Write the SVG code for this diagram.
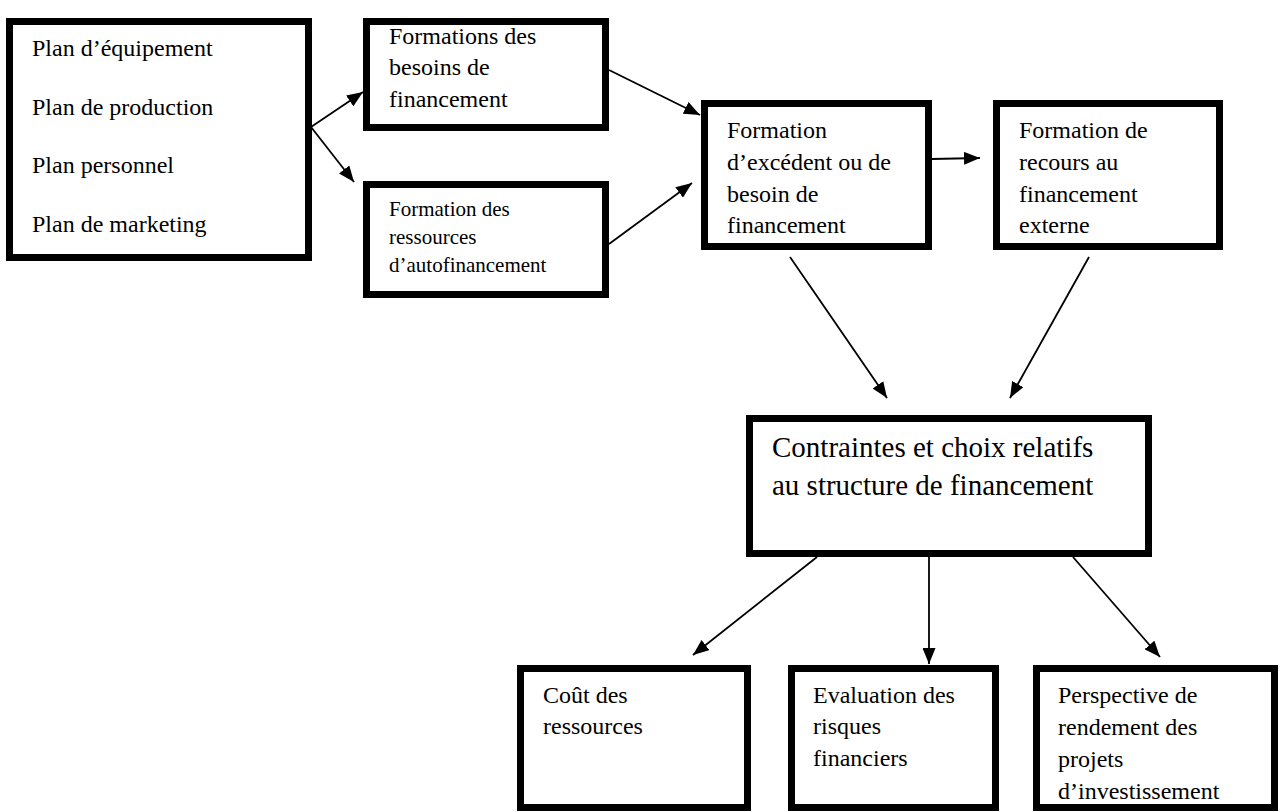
<svg xmlns="http://www.w3.org/2000/svg" width="1281" height="812" viewBox="0 0 1281 812">
<style>
.box{fill:#fff;stroke:#000;stroke-width:7}
text{font-family:'Liberation Serif','Times New Roman','DejaVu Serif',serif;font-size:24px;fill:#000}
.s{font-size:21px}
.b{font-size:29px}
.c{stroke:#000;stroke-width:1.8;fill:none;marker-end:url(#ah)}
</style>
<defs>
<marker id="ah" markerUnits="userSpaceOnUse" markerWidth="16" markerHeight="13" refX="16" refY="6.5" orient="auto">
<path d="M0,0 L16,6.5 L0,13 z" fill="#000"/>
</marker>
</defs>
<rect width="1281" height="812" fill="#fff"/>
<g id="connectors">
<line class="c" x1="311" y1="127" x2="363" y2="92"/>
<line class="c" x1="311" y1="127" x2="354" y2="182"/>
<line class="c" x1="609" y1="70" x2="700" y2="115"/>
<line class="c" x1="609" y1="244" x2="692" y2="183"/>
<line class="c" x1="932" y1="159" x2="980" y2="158"/>
<line class="c" x1="790" y1="257" x2="887" y2="398"/>
<line class="c" x1="1089" y1="257" x2="1010" y2="398"/>
<line class="c" x1="817" y1="557" x2="693" y2="655"/>
<line class="c" x1="929" y1="557" x2="929" y2="664"/>
<line class="c" x1="1073" y1="557" x2="1160" y2="657"/>
</g>
<g font-family="Liberation Serif, Times New Roman, DejaVu Serif, serif">
<g id="plans">
<rect class="box" x="9.5" y="21.5" width="299" height="236"/>
<text x="32" y="56">Plan d’équipement</text>
<text x="32" y="115">Plan de production</text>
<text x="32" y="173">Plan personnel</text>
<text x="32" y="232">Plan de marketing</text>
</g>
<g id="besoins">
<rect class="box" x="366.5" y="21.5" width="239" height="106"/>
<text x="389" y="44">Formations des</text>
<text x="389" y="75">besoins de</text>
<text x="389" y="107">financement</text>
</g>
<g id="ressources">
<rect class="box" x="366.5" y="184.5" width="239" height="110"/>
<text class="s" x="389" y="216">Formation des</text>
<text class="s" x="389" y="244">ressources</text>
<text class="s" x="389" y="272">d’autofinancement</text>
</g>
<g id="excedent">
<rect class="box" x="704.5" y="103.5" width="224" height="143"/>
<text x="727" y="138">Formation</text>
<text x="727" y="170">d’excédent ou de</text>
<text x="727" y="202">besoin de</text>
<text x="727" y="233">financement</text>
</g>
<g id="recours">
<rect class="box" x="996.5" y="103.5" width="223" height="143"/>
<text x="1019" y="138">Formation de</text>
<text x="1019" y="170">recours au</text>
<text x="1019" y="202">financement</text>
<text x="1019" y="233">externe</text>
</g>
<g id="contraintes">
<rect class="box" x="749.5" y="418.5" width="399" height="135"/>
<text class="b" x="772" y="457">Contraintes et choix relatifs</text>
<text class="b" x="772" y="495">au structure de financement</text>
</g>
<g id="cout">
<rect class="box" x="520.5" y="668.5" width="227" height="139"/>
<text x="543" y="703">Coût des</text>
<text x="543" y="734">ressources</text>
</g>
<g id="risques">
<rect class="box" x="791.5" y="668.5" width="204" height="139"/>
<text x="813" y="703">Evaluation des</text>
<text x="813" y="734">risques</text>
<text x="813" y="766">financiers</text>
</g>
<g id="rendement">
<rect class="box" x="1036.5" y="668.5" width="238" height="139"/>
<text x="1058" y="703">Perspective de</text>
<text x="1058" y="735">rendement des</text>
<text x="1058" y="767">projets</text>
<text x="1058" y="799">d’investissement</text>
</g>
</g>
</svg>
